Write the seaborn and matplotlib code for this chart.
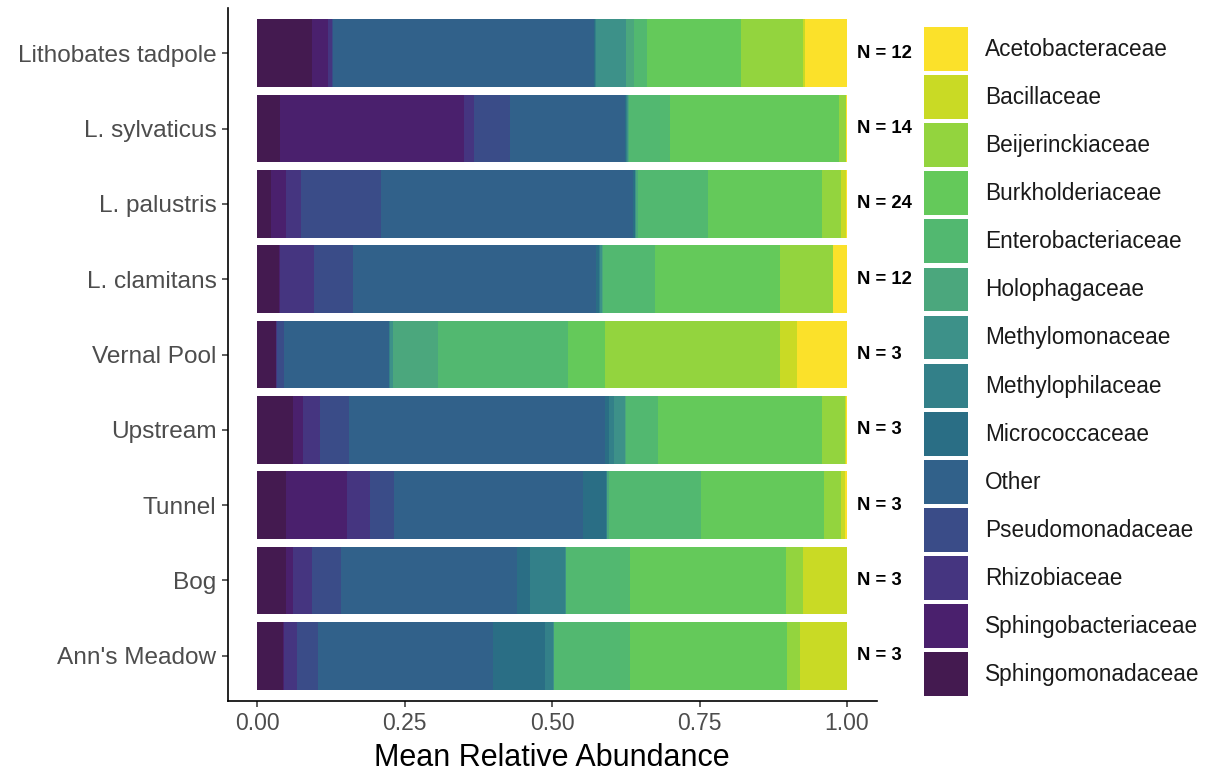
import numpy as np
import pandas as pd
import matplotlib
matplotlib.use("Agg")
import matplotlib.pyplot as plt
from matplotlib.patches import Patch
import seaborn as sns

sites = ["Lithobates tadpole", "L. sylvaticus", "L. palustris", "L. clamitans",
         "Vernal Pool", "Upstream", "Tunnel", "Bog", "Ann's Meadow"]
n_labels = ["N = 12", "N = 14", "N = 24", "N = 12", "N = 3", "N = 3", "N = 3", "N = 3", "N = 3"]

# families in stacking order (left -> right)
families = ["Sphingomonadaceae", "Sphingobacteriaceae", "Rhizobiaceae", "Pseudomonadaceae",
            "Other", "Micrococcaceae", "Methylophilaceae", "Methylomonaceae", "Holophagaceae",
            "Enterobacteriaceae", "Burkholderiaceae", "Beijerinckiaceae", "Bacillaceae",
            "Acetobacteraceae"]

sphingomonadaceae   = [0.093, 0.039, 0.024, 0.038, 0.032, 0.061, 0.049, 0.049, 0.044]
sphingobacteriaceae = [0.028, 0.312, 0.025, 0.001, 0.001, 0.017, 0.103, 0.012, 0.001]
rhizobiaceae        = [0.006, 0.017, 0.025, 0.057, 0.001, 0.028, 0.040, 0.032, 0.023]
pseudomonadaceae    = [0.002, 0.060, 0.136, 0.067, 0.012, 0.050, 0.041, 0.049, 0.035]
other               = [0.442, 0.196, 0.428, 0.411, 0.177, 0.433, 0.319, 0.299, 0.297]
micrococcaceae      = [0.002, 0.002, 0.002, 0.005, 0.001, 0.007, 0.040, 0.022, 0.088]
methylophilaceae    = [0.002, 0.001, 0.001, 0.002, 0.001, 0.009, 0.001, 0.059, 0.014]
methylomonaceae     = [0.051, 0.001, 0.002, 0.004, 0.005, 0.019, 0.001, 0.001, 0.001]
holophagaceae       = [0.013, 0.002, 0.002, 0.002, 0.077, 0.002, 0.002, 0.001, 0.001]
enterobacteriaceae  = [0.022, 0.070, 0.120, 0.088, 0.220, 0.053, 0.157, 0.108, 0.128]
burkholderiaceae    = [0.159, 0.287, 0.193, 0.212, 0.063, 0.279, 0.208, 0.265, 0.267]
beijerinckiaceae    = [0.106, 0.011, 0.032, 0.089, 0.297, 0.039, 0.029, 0.029, 0.021]
bacillaceae         = [0.002, 0.001, 0.008, 0.001, 0.029, 0.002, 0.007, 0.074, 0.080]
acetobacteraceae    = [0.072, 0.001, 0.002, 0.023, 0.084, 0.001, 0.003, 0.000, 0.000]

family_values = [sphingomonadaceae, sphingobacteriaceae, rhizobiaceae, pseudomonadaceae,
                 other, micrococcaceae, methylophilaceae, methylomonaceae, holophagaceae,
                 enterobacteriaceae, burkholderiaceae, beijerinckiaceae, bacillaceae,
                 acetobacteraceae]

colors = ["#441A50", "#4A206D", "#453580", "#3A4C88", "#31618A", "#2A6E85",
          "#338089", "#3D9189", "#4BA77D", "#52B870", "#64C95A", "#93D43E",
          "#C9DA25", "#FBE12A"]

df = pd.DataFrame(dict(zip(families, family_values)), index=sites)
cum = df.cumsum(axis=1)

sns.set_theme(style="ticks")
plt.rcParams["font.family"] = ["Liberation Sans", "DejaVu Sans"]

fig = plt.figure(figsize=(12.22, 7.72), dpi=100)
ax = fig.add_axes([227.5 / 1222, 1 - 701 / 772, (876.5 - 227.5) / 1222, (701 - 8) / 772])

# overlay cumulative bars from the right-most family down to the left-most
for fam, col in zip(families[::-1], colors[::-1]):
    plot_df = pd.DataFrame({"site": sites, "value": cum[fam].values})
    sns.barplot(data=plot_df, x="value", y="site", order=sites, orient="h",
                color=col, saturation=1, width=0.9, linewidth=0, ax=ax, errorbar=None)

ax.set_xlim(-0.05, 1.05)
ax.set_ylim(len(sites) - 0.4, -0.6)
ax.set_xticks([0, 0.25, 0.5, 0.75, 1.0])
ax.set_xticklabels(["0.00", "0.25", "0.50", "0.75", "1.00"])
ax.set_ylabel("")
ax.set_xlabel("Mean Relative Abundance", fontsize=22, color="black", labelpad=6)

for s in ["top", "right"]:
    ax.spines[s].set_visible(False)
for s in ["left", "bottom"]:
    ax.spines[s].set_color("black")
    ax.spines[s].set_linewidth(1.2)
ax.tick_params(axis="both", colors="#333333", labelcolor="#4D4D4D",
               length=4, width=1.1, pad=4)
ax.tick_params(axis="x", labelsize=16.5)
ax.tick_params(axis="y", labelsize=17.6)

for i, lab in enumerate(n_labels):
    ax.text(1.017, i, lab, ha="left", va="center", fontsize=13.3, fontweight="bold",
            color="black", clip_on=False)

handles = [Patch(facecolor=c, edgecolor="none") for c in colors[::-1]]
fig.legend(handles, families[::-1], loc="upper left",
           bbox_to_anchor=(924 / 1222, 1 - 27 / 772), frameon=False,
           fontsize=16.3, handlelength=1.94, handleheight=2.6,
           labelspacing=0.19, handletextpad=0.75, borderpad=0, borderaxespad=0,
           labelcolor="#1A1A1A")

fig.savefig("out.png", dpi=100)
